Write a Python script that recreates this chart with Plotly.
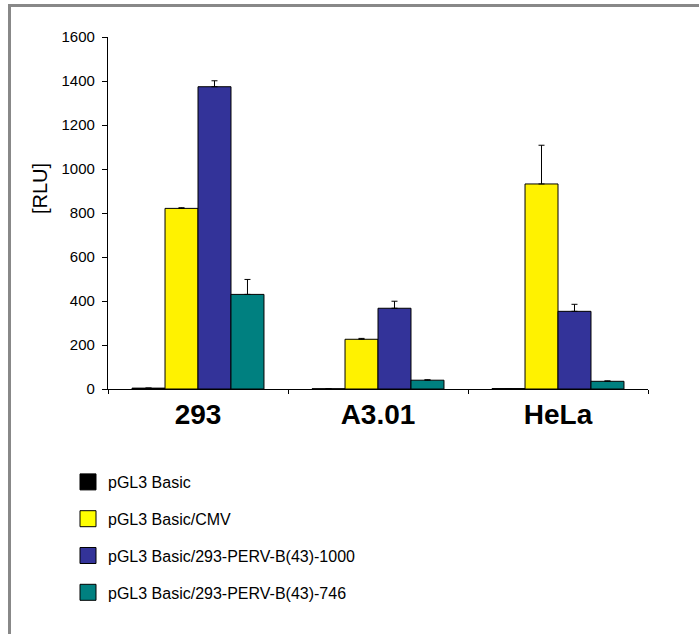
import plotly.graph_objects as go

cells = ["293", "A3.01", "HeLa"]
series_names = [
    "pGL3 Basic",
    "pGL3 Basic/CMV",
    "pGL3 Basic/293-PERV-B(43)-1000",
    "pGL3 Basic/293-PERV-B(43)-746",
]
basic = [4, 1, 2]
basic_err = [0, 0, 0]
cmv = [821, 226, 932]
cmv_err = [3, 4, 176]
perv1000 = [1374, 367, 353]
perv1000_err = [27, 32, 32]
perv746 = [430, 40, 35]
perv746_err = [68, 2, 2]
y_title = "[RLU]"

values = [basic, cmv, perv1000, perv746]
errors = [basic_err, cmv_err, perv1000_err, perv746_err]
colors = ["#000000", "#FFF200", "#333399", "#008080"]
legend_colors = ["#000000", "#FFFF00", "#333399", "#008080"]

FONT = "Liberation Sans, Arial, sans-serif"

fig = go.Figure()
for name, vals, errs, col in zip(series_names, values, errors, colors):
    fig.add_trace(go.Bar(
        x=cells, y=vals, name=name, showlegend=False,
        marker=dict(color=col, line=dict(color="#000000", width=1)),
        error_y=dict(type="data", array=errs, symmetric=False, arrayminus=[0] * len(errs),
                     color="#000000", thickness=1, width=3),
    ))

for i, (name, col) in enumerate(zip(series_names, legend_colors)):
    fig.add_trace(go.Scatter(
        x=[None], y=[None], mode="markers", name=name, legendgroup=f"g{i}",
        marker=dict(symbol="square", size=18, color=col, line=dict(color="#000000", width=1)),
    ))

fig.update_layout(
    width=699, height=634,
    margin=dict(l=108, r=51, t=37, b=245, autoexpand=False),
    paper_bgcolor="white", plot_bgcolor="white",
    font=dict(family=FONT, color="#000000"),
    barmode="group", bargap=0.267, bargroupgap=0,
    showlegend=True,
    legend=dict(
        xref="container", yref="container",
        x=68 / 699, y=1 - 465 / 634, xanchor="left", yanchor="top",
        font=dict(size=16, family=FONT, color="#000000"),
        tracegroupgap=13, bgcolor="rgba(0,0,0,0)", itemsizing="trace",
    ),
    xaxis=dict(
        type="category", showline=True, linecolor="#000000", linewidth=1,
        ticks="outside", ticklen=4, tickcolor="#000000", tickson="boundaries",
        tickfont=dict(size=28, family=FONT, color="#000000", weight="bold"),
        showgrid=False, zeroline=False, fixedrange=True, automargin=False,
    ),
    yaxis=dict(
        range=[0, 1600], dtick=200, showline=True, linecolor="#000000", linewidth=1,
        ticks="outside", ticklen=5, tickcolor="#000000", ticksuffix="\u00a0",
        tickfont=dict(size=15, family=FONT, color="#000000"),
        showgrid=False, zeroline=False, automargin=False,
    ),
    annotations=[
        dict(text=y_title, xref="paper", yref="paper", x=(40 - 108) / 540, y=(389 - 189) / 352,
             xanchor="center", yanchor="middle", textangle=-90, showarrow=False,
             font=dict(size=20, family=FONT, color="#000000")),
    ],
    shapes=[
        dict(type="line", xref="paper", yref="paper",
             x0=(9.5 - 108) / 540, x1=(9.5 - 108) / 540,
             y0=(389 - 4) / 352, y1=(389 - 640) / 352,
             line=dict(color="#888888", width=3)),
        dict(type="line", xref="paper", yref="paper",
             x0=(8 - 108) / 540, x1=(705 - 108) / 540,
             y0=(389 - 5.5) / 352, y1=(389 - 5.5) / 352,
             line=dict(color="#888888", width=3)),
    ],
)

fig.write_html("out.html")
